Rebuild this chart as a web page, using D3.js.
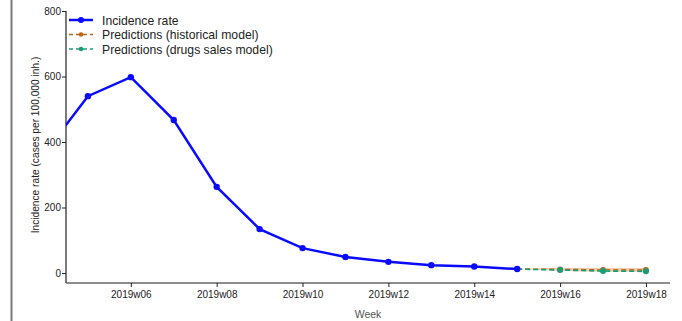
<!DOCTYPE html>
<html>
<head>
<meta charset="utf-8">
<script src="https://cdn.jsdelivr.net/npm/d3@7"></script>
<style>
  html, body { margin: 0; padding: 0; background: #fff; }
  svg { display: block; font-family: "Liberation Sans", Arial, Helvetica, sans-serif; }
</style>
</head>
<body>
<svg id="chart" width="682" height="321"></svg>
<script>
// Weekly incidence (cases per 100,000 inhabitants), season 2019
const weeks = [4, 5, 6, 7, 8, 9, 10, 11, 12, 13, 14, 15];
const incidence = [367, 540, 598, 467, 263, 134, 76, 49, 34, 24, 20, 12];

// Forecasts starting from the last observed week
const predWeeks = [15, 16, 17, 18];
const histPred = [12, 11, 9, 9];
const histLow = [12, 6, 4, 4];
const histHigh = [12, 16, 15, 15];
const salesPred = [12, 9, 6, 5];

const xTicks = [6, 8, 10, 12, 14, 16, 18];
const yTicks = [0, 200, 400, 600, 800];

const legendItems = [
  { label: "Incidence rate", color: "#0a0aff", dash: null, width: 2.5 },
  { label: "Predictions (historical model)", color: "#b8641a", dash: "4,3", width: 1.3 },
  { label: "Predictions (drugs sales model)", color: "#1b9e77", dash: "4,3", width: 1.3 }
];

const svg = d3.select("#chart");
const mLeft = 66, mRight = 670, mTop = 11, axisY = 283;

const x = d3.scaleLinear().domain([4.49, 18.56]).range([mLeft, mRight]);
const y = d3.scaleLinear().domain([0, 800]).range([273, mTop]);

// frame line on the far left
svg.append("line").attr("x1", 11.5).attr("x2", 11.5).attr("y1", 0).attr("y2", 321)
  .attr("stroke", "#7a7a7a").attr("stroke-width", 2);

svg.append("defs").append("clipPath").attr("id", "plot")
  .append("rect").attr("x", mLeft).attr("y", 0).attr("width", mRight - mLeft).attr("height", axisY);

// y axis
const yAxis = svg.append("g").attr("transform", `translate(${mLeft},0)`)
  .call(d3.axisLeft(y).tickValues(yTicks).tickSize(4).tickPadding(1).tickFormat(d3.format("d")));
yAxis.select(".domain").attr("d", `M0,${mTop}V${axisY}`).attr("stroke", "#222").attr("stroke-width", 1.2);
yAxis.selectAll(".tick line").attr("stroke", "#222");
yAxis.selectAll("text").attr("font-size", 10).attr("fill", "#222");

// x axis
const xAxis = svg.append("g").attr("transform", `translate(0,${axisY})`)
  .call(d3.axisBottom(x).tickValues(xTicks).tickSize(4).tickPadding(4)
    .tickFormat(d => "2019w" + String(d).padStart(2, "0")));
xAxis.select(".domain").attr("d", `M${mLeft},0H${mRight}`).attr("stroke", "#666").attr("stroke-width", 1.3);
xAxis.selectAll(".tick line").attr("stroke", "#222");
xAxis.selectAll("text").attr("font-size", 10).attr("fill", "#222");

// axis titles
svg.append("text").attr("transform", `translate(39,${(mTop + 273) / 2 + 3}) rotate(-90)`)
  .attr("text-anchor", "middle").attr("font-size", 10.2).attr("fill", "#222")
  .text("Incidence rate (cases per 100,000 inh.)");
svg.append("text").attr("x", (mLeft + mRight) / 2).attr("y", 318)
  .attr("text-anchor", "middle").attr("font-size", 10.5).attr("fill", "#555")
  .text("Week");

const plot = svg.append("g").attr("clip-path", "url(#plot)");

// uncertainty band of the historical model
const band = predWeeks.map((w, i) => ({ w, lo: histLow[i], hi: histHigh[i] }));
plot.append("path").datum(band)
  .attr("fill", "#e8a878").attr("fill-opacity", 0.6)
  .attr("d", d3.area().x(d => x(d.w)).y0(d => y(d.lo)).y1(d => y(d.hi)));

const line = d3.line().x(d => x(d[0])).y(d => y(d[1]));

// observed incidence
const obs = weeks.map((w, i) => [w, incidence[i]]);
plot.append("path").datum(obs).attr("fill", "none")
  .attr("stroke", legendItems[0].color).attr("stroke-width", 2.5).attr("d", line);

// forecasts
const hist = predWeeks.map((w, i) => [w, histPred[i]]);
const sales = predWeeks.map((w, i) => [w, salesPred[i]]);
plot.append("path").datum(hist).attr("fill", "none")
  .attr("stroke", legendItems[1].color).attr("stroke-width", 1.6).attr("stroke-dasharray", "5,3").attr("d", line);
plot.append("path").datum(sales).attr("fill", "none")
  .attr("stroke", legendItems[2].color).attr("stroke-width", 1.6).attr("stroke-dasharray", "5,3").attr("d", line);

plot.selectAll(".hist-pt").data(hist.slice(1)).join("circle")
  .attr("cx", d => x(d[0])).attr("cy", d => y(d[1])).attr("r", 3).attr("fill", legendItems[1].color);
plot.selectAll(".sales-pt").data(sales.slice(1)).join("circle")
  .attr("cx", d => x(d[0])).attr("cy", d => y(d[1])).attr("r", 3).attr("fill", legendItems[2].color);

plot.selectAll(".obs-pt").data(obs).join("circle")
  .attr("cx", d => x(d[0])).attr("cy", d => y(d[1])).attr("r", 3.2).attr("fill", legendItems[0].color);

// legend
const legend = svg.append("g").attr("transform", "translate(69,20)");
legendItems.forEach((it, i) => {
  const g = legend.append("g").attr("transform", `translate(0,${i * 14.5})`);
  g.append("line").attr("x1", 0).attr("x2", 24).attr("y1", 0).attr("y2", 0)
    .attr("stroke", it.color).attr("stroke-width", it.width)
    .attr("stroke-dasharray", it.dash);
  g.append("circle").attr("cx", 12).attr("cy", 0).attr("r", i === 0 ? 3 : 2.3).attr("fill", it.color);
  g.append("text").attr("x", 33).attr("y", 4.5).attr("font-size", 12.2).attr("fill", "#222").text(it.label);
});
</script>
</body>
</html>
